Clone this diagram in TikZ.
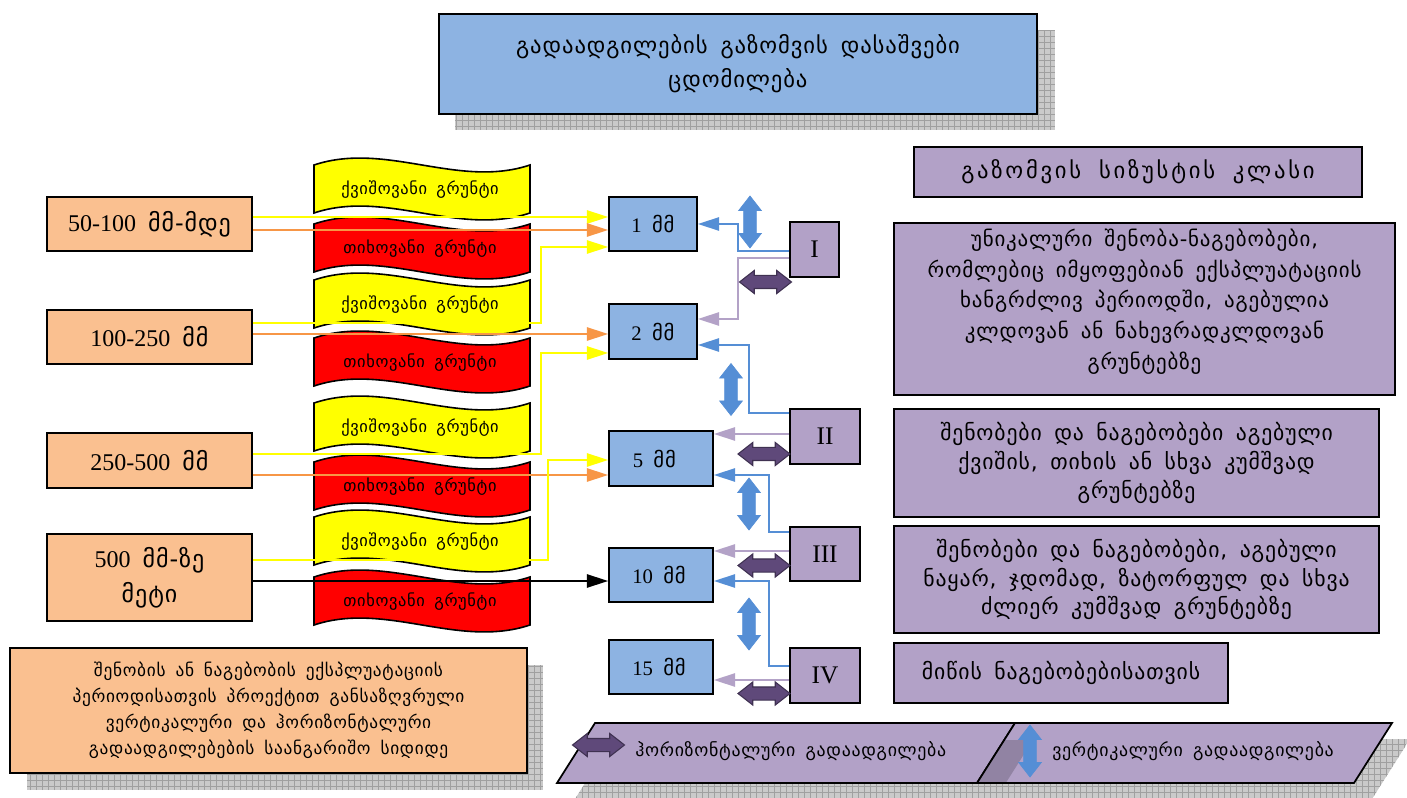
\documentclass[tikz,border=0pt]{standalone}
\usepackage{fontspec}
\setmainfont{Liberation Serif}
\newfontfamily\geo[WordSpace=1.6,LetterSpace=4]{DejaVu Sans}
\newfontfamily\geowide[WordSpace=1.8,LetterSpace=12]{DejaVu Sans}
\usetikzlibrary{arrows.meta,shapes.arrows,calc}

\definecolor{boxblue}{HTML}{8DB3E2}
\definecolor{boxorange}{HTML}{FAC090}
\definecolor{boxpurple}{HTML}{B2A1C7}
\definecolor{arrblue}{HTML}{558ED5}
\definecolor{arrpurple}{HTML}{5F497A}
\definecolor{arrpurpledark}{HTML}{3F3151}
\definecolor{lnorange}{HTML}{F79646}
\definecolor{lnlilac}{HTML}{B3A2C7}
\definecolor{bannerred}{HTML}{FF0000}
\definecolor{banneryellow}{HTML}{FFFF00}
\definecolor{shadefill}{HTML}{CACACA}
\definecolor{shadeline}{HTML}{A0A0A0}

\begin{document}
\begin{tikzpicture}[x=0.75pt,y=-0.75pt,
  wh/.style 2 args={minimum width=#1*0.75pt, minimum height=#2*0.75pt},
  bx/.style={draw=black, line width=1.3pt, inner sep=0pt, align=center},
  titlebox/.style={bx, fill=boxblue, font=\fontsize{17}{25.5}\selectfont\geo},
  rangebox/.style={bx, fill=boxorange, font=\fontsize{18}{26}\selectfont},
  mmbox/.style={bx, fill=boxblue, font=\fontsize{15.5}{17}\selectfont},
  classbox/.style={bx, fill=boxpurple, font=\fontsize{19}{20}\selectfont},
  descbox/.style={bx, fill=boxpurple, font=\fontsize{16.3}{21.5}\selectfont\geo},
  notebox/.style={bx, fill=boxorange, font=\fontsize{13}{19.5}\selectfont\geo},
  bantext/.style={inner sep=0pt, font=\fontsize{12.3}{14}\selectfont\geo},
  legtext/.style={inner sep=0pt, font=\fontsize{13.4}{15}\selectfont\geo},
  bannerline/.style={draw=black, line width=1.2pt},
  gridshade/.style={path picture={
      \fill[shadefill] (path picture bounding box.south west) rectangle (path picture bounding box.north east);
      \draw[shadeline, line width=0.4pt, step=4.5pt] (path picture bounding box.south west) grid (path picture bounding box.north east);}},
  conn/.style={line width=1.3pt, -{Triangle[length=16pt,width=10pt]}},
  yl/.style={conn, banneryellow},
  og/.style={conn, lnorange},
  bk/.style={conn, black},
  bl/.style={conn, arrblue},
  li/.style={conn, lnlilac},
  dbl/.style={double arrow, inner xsep=0pt, inner ysep=4.5pt, minimum height=52*0.75pt,
      double arrow head extend=3.75pt, double arrow tip angle=76},
  varr/.style={dbl, rotate=90, fill=arrblue, draw=arrblue, line width=0.5pt},
  harr/.style={dbl, fill=arrpurple, draw=arrpurpledark, line width=0.8pt}]

\useasboundingbox (0,0) rectangle (1407,798);

% drop shadows with a grid texture
\path[gridshade] (455,30) rectangle (1055,130);
\path[gridshade] (27,665) rectangle (543,790);
\path[gridshade] (613,739) -- (1410,739) -- (1372,799) -- (575,799) -- cycle;

% heading
\node[titlebox, wh={598}{100}] (title) at (738,64) {გადაადგილების გაზომვის დასაშვები\\ცდომილება};

% displacement ranges
\node[rangebox, wh={205}{54}] (L1) at (149.5,224) {50-100\ \ {\geo მმ-მდე}};
\node[rangebox, wh={205}{54}] (L2) at (149.5,337) {100-250\ \ {\geo მმ}};
\node[rangebox, wh={205}{55}] (L3) at (149.5,460.5) {250-500\ \ {\geo მმ}};
\node[rangebox, wh={205}{87}] (L4) at (149.5,577.5) {500\ \ {\geo მმ-ზე}\\{\geo მეტი}};

% soil type banners
\foreach \t/\c/\n/\w in {165/banneryellow/Y1/ქვიშოვანი, 224/bannerred/R1/თიხოვანი,
    280/banneryellow/Y2/ქვიშოვანი, 338/bannerred/R2/თიხოვანი,
    403/banneryellow/Y3/ქვიშოვანი, 462/bannerred/R3/თიხოვანი,
    517/banneryellow/Y4/ქვიშოვანი, 577/bannerred/R4/თიხოვანი}{
  \draw[bannerline, fill=\c] (314,\t) .. controls (386,\t-24) and (458,\t+24) .. (530,\t)
     -- (530,\t+48) .. controls (458,\t+72) and (386,\t+24) .. (314,\t+48) -- cycle;
  \node[bantext] (\n) at (420,\t+25) {\w\ გრუნტი};
}

% permissible errors
\node[mmbox, wh={88}{54}] (M1) at (653,224) {1\ \ {\geo მმ}};
\node[mmbox, wh={88}{55}] (M2) at (653,331.5) {2\ \ {\geo მმ}};
\node[mmbox, wh={104}{55}] (M5) at (661,458.5) {5\ \ {\geo მმ}\hspace*{10pt}};
\node[mmbox, wh={104}{54}] (M10) at (661,575) {10\ \ {\geo მმ}\hspace*{3pt}};
\node[mmbox, wh={104}{54}] (M15) at (661,667) {15\ \ {\geo მმ}\hspace*{3pt}};

% accuracy classes
\node[classbox, wh={49}{55}] (C1) at (814.5,249.5) {I};
\node[classbox, wh={70}{55}] (C2) at (825,436.5) {II};
\node[classbox, wh={70}{54}] (C3) at (825,554) {III};
\node[classbox, wh={70}{55}] (C4) at (825,675.5) {IV};

% class descriptions
\node[descbox, wh={448}{50}, font=\fontsize{17}{20}\selectfont\geowide] (hdr) at (1138,172) {გაზომვის სიზუსტის კლასი};
\node[descbox, wh={501}{172}, font=\fontsize{15.7}{23}\selectfont\geo] (D1) at (1144.5,309) {უნიკალური შენობა-ნაგებობები,\\რომლებიც იმყოფებიან ექსპლუატაციის\\ხანგრძლივ პერიოდში, აგებულია\\კლდოვან ან ნახევრადკლდოვან\\გრუნტებზე\\[-8pt]\mbox{}};
\node[descbox, wh={485}{108}] (D2) at (1136.5,463) {შენობები და ნაგებობები აგებული\\ქვიშის, თიხის ან სხვა კუმშვად\\გრუნტებზე};
\node[descbox, wh={485}{107}] (D3) at (1136.5,579.5) {შენობები და ნაგებობები, აგებული\\ნაყარ, ჯდომად, ზატორფულ და სხვა\\ძლიერ კუმშვად გრუნტებზე};
\node[descbox, wh={334}{60}] (D4) at (1061,673) {მიწის ნაგებობებისათვის};

% design value note
\node[notebox, wh={517}{125}] (B) at (268.5,710.5) {შენობის ან ნაგებობის ექსპლუატაციის\\პერიოდისათვის პროექტით განსაზღვრული\\ვერტიკალური და ჰორიზონტალური\\გადაადგილებების საანგარიშო სიდიდე};

% ranges to permissible errors
\draw[yl] ($(L1.east)+(0,-7)$) -- ($(M1.west)+(0,-7)$);
\draw[og] ($(L1.east)+(0,6)$) -- ($(M1.west)+(0,6)$);
\draw[yl] ($(L2.east)+(0,-14)$) -- ++(288,0) |- ($(M1.west)+(0,23)$);
\draw[og] ($(L2.east)+(0,-3)$) -- ($(M2.west)+(0,2.5)$);
\draw[yl] ($(L3.east)+(0,-6.5)$) -- ++(288,0) |- ($(M2.west)+(0,21.5)$);
\draw[og] ($(L3.east)+(0,14.5)$) -- ($(M5.west)+(0,16.5)$);
\draw[yl] ($(L4.east)+(0,-17.5)$) -- ++(295,0) |- ($(M5.west)+(0,1.5)$);
\draw[bk] ($(L4.east)+(0,3.5)$) -- ($(M10.west)+(0,6)$);

% classes to permissible errors
\draw[bl] ($(C1.west)+(0,1.5)$) -- ++(-51,0) |- (M1.east);
\draw[li] ($(C1.west)+(0,8.5)$) -- ++(-51,0) |- ($(M2.east)+(0,-12.5)$);
\draw[bl] ($(C2.west)+(0,-23.5)$) -- ++(-40,0) |- ($(M2.east)+(0,13.5)$);
\draw[li] ($(C2.west)+(0,-2.5)$) -- ($(M5.east)+(0,-24.5)$);
\draw[bl] ($(C3.west)+(0,-22)$) -- ++(-20,0) |- ($(M5.east)+(0,16.5)$);
\draw[li] ($(C3.west)+(0,-3)$) -- ($(M10.east)+(0,-24)$);
\draw[bl] ($(C4.west)+(0,-9.5)$) -- ++(-20,0) |- ($(M10.east)+(0,6)$);
\draw[li] ($(C4.west)+(0,4.5)$) -- ($(M15.east)+(0,13)$);

% vertical and horizontal displacement markers
\node[varr] (V1) at (750,222) {};
\node[varr] (V2) at (731,389.5) {};
\node[varr] (V3) at (749,504) {};
\node[varr] (V4) at (749,624) {};
\node[harr] (H1) at (765.5,282) {};
\node[harr] (H2) at (764,454) {};
\node[harr] (H3) at (764,565.5) {};
\node[harr] (H4) at (764,693.5) {};

% legend
\draw[bx, fill=boxpurple] (595,723) -- (1015,723) -- (977,783) -- (557,783) -- cycle;
\draw[bx, fill=boxpurple] (1015,723) -- (1392,723) -- (1354,783) -- (977,783) -- cycle;
\begin{scope}
  \clip (1015,723) -- (1392,723) -- (1354,783) -- (977,783) -- cycle;
  \fill[black, opacity=0.18] (613,740) -- (1033,740) -- (995,800) -- (575,800) -- cycle;
\end{scope}
\node[harr] (lgH) at (598.5,745) {};
\node[varr] (lgV) at (1030,751) {};
\node[legtext, anchor=west] (LT1) at (635,751) {ჰორიზონტალური გადაადგილება};
\node[legtext, anchor=west] (LT2) at (1052,751) {ვერტიკალური გადაადგილება};
\end{tikzpicture}
\end{document}
